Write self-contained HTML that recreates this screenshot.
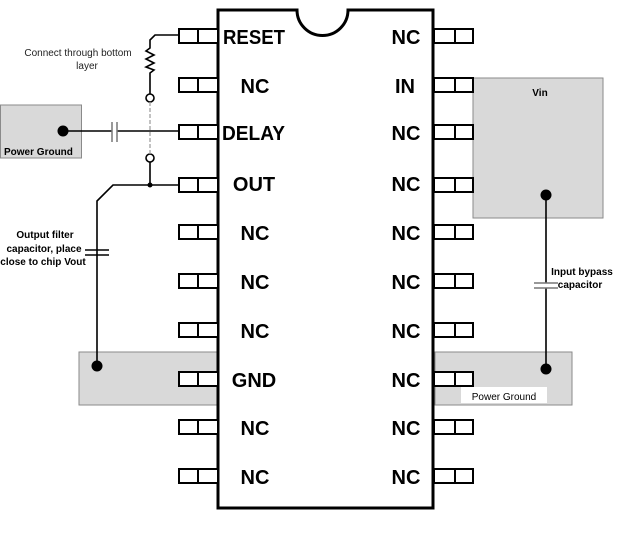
<!DOCTYPE html>
<html><head><meta charset="utf-8"><style>
html,body{margin:0;padding:0;background:#fff;}
svg{display:block;}
.pl{font-family:"Liberation Sans",sans-serif;font-weight:bold;font-size:20px;fill:#000;}
.sm{font-family:"Liberation Sans",sans-serif;font-weight:bold;font-size:10px;fill:#000;}
.nr{font-family:"Liberation Sans",sans-serif;font-size:10px;fill:#222;}
</style></head><body>
<svg width="631" height="556" viewBox="0 0 631 556" xmlns="http://www.w3.org/2000/svg">
<rect x="473" y="78" width="130" height="140" fill="#d9d9d9" stroke="#8a8a8a" stroke-width="1"/>
<rect x="435" y="352" width="137" height="53" fill="#d9d9d9" stroke="#8a8a8a" stroke-width="1"/>
<rect x="79" y="352" width="139" height="53" fill="#d9d9d9" stroke="#8a8a8a" stroke-width="1"/>
<rect x="0.5" y="105" width="81" height="53" fill="#d9d9d9" stroke="#8a8a8a" stroke-width="1"/>

<path d="M218,10 H297 A25.5,25.5 0 0 0 348,10 H433 V508 H218 Z" fill="#fff" stroke="#000" stroke-width="3"/>

<g fill="#fff" stroke="#000" stroke-width="2">
<rect x="179" y="29" width="39" height="14"/><line x1="198" y1="29" x2="198" y2="43"/>
<rect x="179" y="78" width="39" height="14"/><line x1="198" y1="78" x2="198" y2="92"/>
<rect x="179" y="125" width="39" height="14"/><line x1="198" y1="125" x2="198" y2="139"/>
<rect x="179" y="178" width="39" height="14"/><line x1="198" y1="178" x2="198" y2="192"/>
<rect x="179" y="225" width="39" height="14"/><line x1="198" y1="225" x2="198" y2="239"/>
<rect x="179" y="274" width="39" height="14"/><line x1="198" y1="274" x2="198" y2="288"/>
<rect x="179" y="323" width="39" height="14"/><line x1="198" y1="323" x2="198" y2="337"/>
<rect x="179" y="372" width="39" height="14"/><line x1="198" y1="372" x2="198" y2="386"/>
<rect x="179" y="420" width="39" height="14"/><line x1="198" y1="420" x2="198" y2="434"/>
<rect x="179" y="469" width="39" height="14"/><line x1="198" y1="469" x2="198" y2="483"/>

<rect x="434" y="29" width="39" height="14"/><line x1="455" y1="29" x2="455" y2="43"/>
<rect x="434" y="78" width="39" height="14"/><line x1="455" y1="78" x2="455" y2="92"/>
<rect x="434" y="125" width="39" height="14"/><line x1="455" y1="125" x2="455" y2="139"/>
<rect x="434" y="178" width="39" height="14"/><line x1="455" y1="178" x2="455" y2="192"/>
<rect x="434" y="225" width="39" height="14"/><line x1="455" y1="225" x2="455" y2="239"/>
<rect x="434" y="274" width="39" height="14"/><line x1="455" y1="274" x2="455" y2="288"/>
<rect x="434" y="323" width="39" height="14"/><line x1="455" y1="323" x2="455" y2="337"/>
<rect x="434" y="372" width="39" height="14"/><line x1="455" y1="372" x2="455" y2="386"/>
<rect x="434" y="420" width="39" height="14"/><line x1="455" y1="420" x2="455" y2="434"/>
<rect x="434" y="469" width="39" height="14"/><line x1="455" y1="469" x2="455" y2="483"/>
</g>

<g class="pl">
<text x="223" y="44" textLength="62" lengthAdjust="spacingAndGlyphs">RESET</text>
<text x="255" y="93" text-anchor="middle">NC</text>
<text x="222" y="140" textLength="63" lengthAdjust="spacingAndGlyphs">DELAY</text>
<text x="254" y="191" text-anchor="middle">OUT</text>
<text x="255" y="240" text-anchor="middle">NC</text>
<text x="255" y="289" text-anchor="middle">NC</text>
<text x="255" y="338" text-anchor="middle">NC</text>
<text x="254" y="387" text-anchor="middle">GND</text>
<text x="255" y="435" text-anchor="middle">NC</text>
<text x="255" y="484" text-anchor="middle">NC</text>
<text x="406" y="44" text-anchor="middle">NC</text>
<text x="405" y="93" text-anchor="middle">IN</text>
<text x="406" y="140" text-anchor="middle">NC</text>
<text x="406" y="191" text-anchor="middle">NC</text>
<text x="406" y="240" text-anchor="middle">NC</text>
<text x="406" y="289" text-anchor="middle">NC</text>
<text x="406" y="338" text-anchor="middle">NC</text>
<text x="406" y="387" text-anchor="middle">NC</text>
<text x="406" y="435" text-anchor="middle">NC</text>
<text x="406" y="484" text-anchor="middle">NC</text>
</g>

<g fill="none" stroke="#000" stroke-width="1.6">
<path d="M179,35 H155 L150,40 V48 L146,51 L154,55 L146,59 L154,63 L146,67 L154,70 L150,73 V94"/>
<circle cx="150" cy="98" r="4" fill="#fff"/>
<circle cx="150" cy="158" r="4" fill="#fff"/>
<path d="M150,162 V185"/>
<path d="M179,185 H113 L97,201 V366"/>
<path d="M63,131 H112 M117,131 H179"/>
<path d="M546,195 V283 M546,288 V369"/>
</g>
<line x1="150" y1="102" x2="150" y2="154" stroke="#999" stroke-width="1.2" stroke-dasharray="4,2"/>
<g stroke="#777" stroke-width="1.5">
<line x1="112" y1="122" x2="112" y2="142"/>
<line x1="117" y1="122" x2="117" y2="142"/>
<line x1="534" y1="283" x2="558" y2="283"/>
<line x1="534" y1="288" x2="558" y2="288"/>
</g>
<g stroke="#000" stroke-width="1.5">
<line x1="85" y1="250" x2="109" y2="250"/>
<line x1="85" y1="255" x2="109" y2="255"/>
</g>
<g fill="#000">
<circle cx="150" cy="185" r="2.5"/>
<circle cx="63" cy="131" r="5.5"/>
<circle cx="97" cy="366" r="5.5"/>
<circle cx="546" cy="195" r="5.5"/>
<circle cx="546" cy="369" r="5.5"/>
</g>

<text class="nr" x="78" y="56" text-anchor="middle">Connect through bottom</text>
<text class="nr" x="87" y="69" text-anchor="middle">layer</text>
<text class="sm" x="4" y="155" font-size="10.5">Power Ground</text>
<text class="sm" x="45" y="238" text-anchor="middle" font-size="9.5">Output filter</text>
<text class="sm" x="44" y="252" text-anchor="middle" font-size="9.5">capacitor, place</text>
<text class="sm" x="43" y="265" text-anchor="middle" font-size="9.5">close to chip Vout</text>
<text class="sm" x="540" y="96" text-anchor="middle" font-size="13">Vin</text>
<text class="sm" x="582" y="275" text-anchor="middle">Input bypass</text>
<text class="sm" x="580" y="288" text-anchor="middle">capacitor</text>
<rect x="461" y="387" width="86" height="16" fill="#fff"/>
<text class="sm" x="504" y="400" text-anchor="middle" font-size="12.5" style="font-weight:normal">Power Ground</text>
</svg>
</body></html>
